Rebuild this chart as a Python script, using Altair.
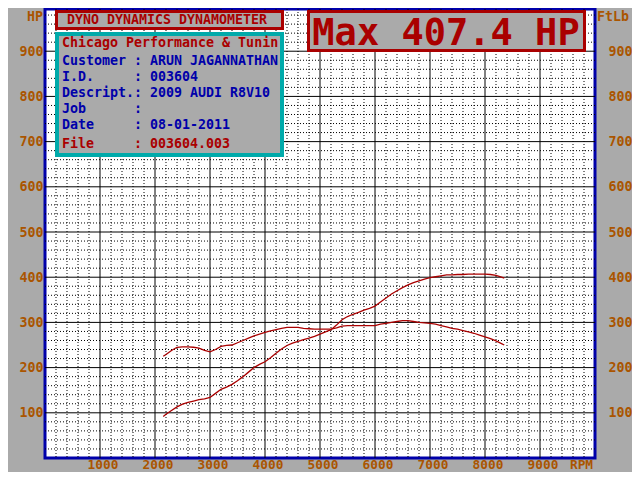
import altair as alt
import pandas as pd

# ---------------- data ----------------
rpm = [2150, 2200, 2300, 2400, 2500, 2600, 2700, 2800, 2900, 3000,
       3100, 3200, 3300, 3400, 3500, 3600, 3700, 3800, 3900, 4000,
       4100, 4200, 4300, 4400, 4500, 4600, 4700, 4800, 4900, 5000,
       5100, 5200, 5300, 5400, 5500, 5600, 5700, 5800, 5900, 6000,
       6100, 6200, 6300, 6400, 6500, 6600, 6700, 6800, 6900, 7000,
       7100, 7200, 7300, 7400, 7500, 7600, 7700, 7800, 7900, 8000,
       8100, 8200, 8300, 8350]
hp = [92, 97, 105, 113, 119, 123, 126, 129, 131, 134,
      143, 152, 157, 163, 171, 180, 190, 200, 207, 213,
      222, 232, 241, 249, 254, 258, 262, 265, 269, 274,
      279, 284, 294, 306, 313, 318, 322, 327, 331, 336,
      345, 354, 363, 370, 377, 383, 388, 392, 396, 399,
      401, 403, 405, 405, 406, 406, 407, 407, 407, 407,
      406, 404, 400, 398]
torque = [225, 229, 238, 245, 246, 246, 245, 243, 238, 235,
          240, 247, 249, 250, 255, 260, 265, 270, 274, 278,
          281, 284, 287, 289, 289, 289, 287, 286, 285, 285,
          285, 285, 288, 292, 293, 293, 293, 293, 293, 293,
          296, 298, 300, 302, 304, 304, 302, 300, 299, 298,
          296, 293, 290, 287, 285, 282, 279, 276, 272, 268,
          264, 259, 253, 250]

x_major = [1000, 2000, 3000, 4000, 5000, 6000, 7000, 8000, 9000]
x_minor = [v for v in range(200, 10000, 200) if v % 1000 != 0]
y_major = [100, 200, 300, 400, 500, 600, 700, 800, 900]
y_minor = [v for v in range(20, 1000, 20) if v % 100 != 0]
x_labels = ["1000", "2000", "3000", "4000", "5000", "6000", "7000", "8000", "9000", "RPM"]
x_label_pos = x_major + [9700]

title_text = "DYNO DYNAMICS DYNAMOMETER"
max_text = "Max 407.4 HP"
shop_text = "Chicago Performance & Tunin"
info_labels = ["Customer", "I.D.", "Descript.", "Job", "Date"]
info_values = ["ARUN JAGANNATHAN", "003604", "2009 AUDI R8V10", "", "08-01-2011"]
file_label = "File"
file_value = "003604.003"

# ---------------- styling ----------------
GRAY = "#aaaaaa"
BLUE = "#0000aa"
RED = "#aa0000"
CYAN = "#00aaaa"
BROWN = "#aa5500"
FONT = "DejaVu Sans Mono"
FS = 13.3
H = 449

xs = alt.Scale(domain=[0, 10000], nice=False, zero=False)
ys = alt.Scale(domain=[0, 993.4], nice=False, zero=False)

curves = pd.DataFrame({"rpm": rpm, "hp": hp, "tq": torque})
one = pd.DataFrame({"a": [0]})

minor_v = alt.Chart(pd.DataFrame({"v": x_minor})).mark_rule(
    color="black", strokeWidth=1, strokeDash=[1, 2]
).encode(x=alt.X("v:Q", scale=xs, axis=None))
minor_h = alt.Chart(pd.DataFrame({"v": y_minor})).mark_rule(
    color="black", strokeWidth=1, strokeDash=[1, 2]
).encode(y=alt.Y("v:Q", scale=ys, axis=None))
major_v = alt.Chart(pd.DataFrame({"v": x_major})).mark_rule(
    color="black", strokeWidth=1
).encode(x=alt.X("v:Q", scale=xs, axis=None))
major_h = alt.Chart(pd.DataFrame({"v": y_major})).mark_rule(
    color="black", strokeWidth=1
).encode(y=alt.Y("v:Q", scale=ys, axis=None))

hp_line = alt.Chart(curves).mark_line(color=RED, strokeWidth=1.3).encode(
    x=alt.X("rpm:Q", scale=xs, axis=None),
    y=alt.Y("hp:Q", scale=ys, axis=alt.Axis(
        orient="left", values=y_major, format="d",
        grid=False, ticks=False, tickSize=0, domain=False, title=None,
        labelPadding=2, labelFlush=False, labelOverlap=False)),
)
tq_line = alt.Chart(curves).mark_line(color=RED, strokeWidth=1.3).encode(
    x=alt.X("rpm:Q", scale=xs, axis=None),
    y=alt.Y("tq:Q", scale=ys, axis=alt.Axis(
        orient="right", values=y_major, format="d",
        grid=False, ticks=False, tickSize=0, domain=False, title=None,
        labelPadding=13, labelFlush=False, labelOverlap=False)),
)

x_axis_text = alt.Chart(pd.DataFrame({"v": x_label_pos, "t": x_labels})).mark_text(
    font=FONT, fontWeight="bold", fontSize=12.8, color=BROWN,
    align="center", baseline="alphabetic", dx=3
).encode(x=alt.X("v:Q", scale=xs, axis=None), y=alt.value(H + 10.8), text="t:N")


def box(x1, x2, y1, y2, stroke, sw):
    return alt.Chart(one).mark_rect(fill=GRAY, stroke=stroke, strokeWidth=sw).encode(
        x=alt.value(x1), x2=alt.value(x2), y=alt.value(y1), y2=alt.value(y2))


def txt(text, x, y, color, size=FS, align="left"):
    return alt.Chart(one).mark_text(
        font=FONT, fontWeight="bold", fontSize=size, color=color,
        align=align, baseline="alphabetic"
    ).encode(x=alt.value(x), y=alt.value(y), text=alt.value(text))


title_box = box(11.5, 237.5, 2.5, 19.5, RED, 3)
info_box = box(12, 237, 25, 146, CYAN, 4)
max_box = box(263.5, 539.5, 2.5, 41.5, RED, 3)

texts = [
    txt(title_text, 122, 15, RED, align="center"),
    txt(max_text, 401, 36, RED, size=37, align="center"),
    txt(shop_text, 17, 37.7, RED),
]
for i, (lab, val) in enumerate(zip(info_labels, info_values)):
    yy = 56 + 16 * i
    texts.append(txt(lab, 17, yy, BLUE))
    texts.append(txt(":", 89, yy, BLUE))
    if val:
        texts.append(txt(val, 105, yy, BLUE))
texts += [
    txt(file_label, 17, 138.7, RED),
    txt(":", 89, 138.7, RED),
    txt(file_value, 105, 138.7, RED),
    txt("HP", -2, 12, BROWN, align="right"),
    txt("FtLb", 552, 12, BROWN),
]

chart = alt.layer(
    minor_v, minor_h, major_v, major_h, hp_line, tq_line, x_axis_text,
    title_box, info_box, max_box, *texts
).resolve_axis(y="independent").properties(
    width=550, height=H,
    padding={"left": 37, "top": 1, "right": 37, "bottom": 14},
    autosize=alt.AutoSizeParams(type="none"),
    background=GRAY,
).configure_view(
    stroke=BLUE, strokeWidth=3, fill="white"
).configure_axis(
    labelFont=FONT, labelFontSize=FS, labelFontWeight="bold", labelColor=BROWN
)

chart.save("out.html", embed_options={"renderer": "svg", "actions": False})
